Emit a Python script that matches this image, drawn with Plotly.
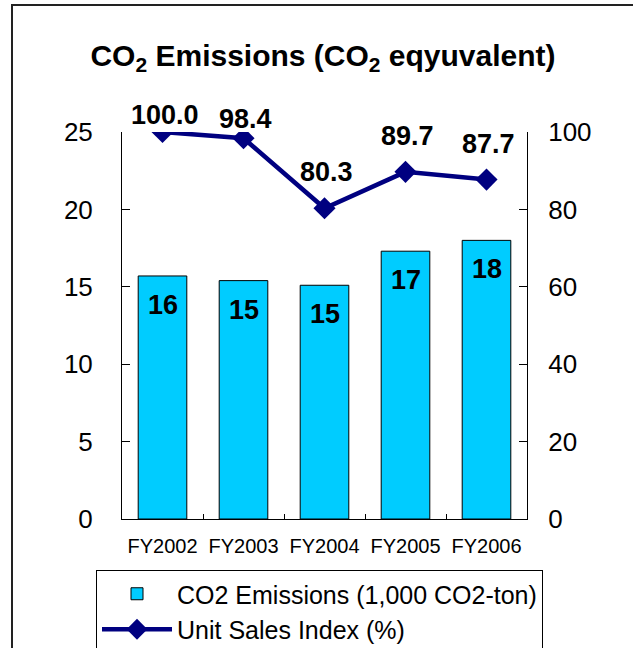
import plotly.graph_objects as go

categories = ["FY2002", "FY2003", "FY2004", "FY2005", "FY2006"]
co2_emissions = [15.7, 15.4, 15.1, 17.3, 18.0]
sales_index = [100.0, 98.4, 80.3, 89.7, 87.7]
line_label_shift = [17, 19, 36, 36, 36]

W, H = 633, 648
ML, MR, MT, MB = 122, 106, 132, 129
PW, PH = W - ML - MR, H - MT - MB
FONT = "Liberation Sans, Arial, sans-serif"

fig = go.Figure()
fig.add_trace(go.Bar(
    x=categories, y=co2_emissions, name="CO2 Emissions (1,000 CO2-ton)",
    marker=dict(color="#00CCFF", line=dict(color="#000000", width=1)),
    yaxis="y",
))
fig.add_trace(go.Scatter(
    x=categories, y=sales_index, name="Unit Sales Index (%)",
    mode="lines+markers",
    line=dict(color="#000080", width=4.5),
    marker=dict(symbol="diamond", size=17, color="#000080"),
    yaxis="y2",
))

annotations = []
for c, v in zip(categories, co2_emissions):
    annotations.append(dict(x=c, y=v, xref="x", yref="y", text=f"<b>{v:.0f}</b>",
                            showarrow=False, yshift=-29,
                            font=dict(family=FONT, size=27, color="#000000")))
for c, v, s in zip(categories, sales_index, line_label_shift):
    annotations.append(dict(x=c, y=v, xref="x", yref="y2", text=f"<b>{v:.1f}</b>",
                            showarrow=False, yshift=s, xshift=2,
                            font=dict(family=FONT, size=27, color="#000000")))

fig.update_layout(
    width=W, height=H,
    margin=dict(l=ML, r=MR, t=MT, b=MB, autoexpand=False),
    paper_bgcolor="#FFFFFF", plot_bgcolor="#FFFFFF",
    font=dict(family=FONT, color="#000000"),
    title=dict(text="<b>CO<sub>2</sub> Emissions (CO<sub>2</sub> eqyuvalent)</b>",
               x=323 / W, xanchor="center", xref="container",
               y=1 - 55 / H, yanchor="middle", yref="container",
               font=dict(family=FONT, size=30, color="#000000")),
    bargap=0.4,
    showlegend=True,
    legend=dict(x=(96 - ML) / PW, xanchor="left", y=-(570 - (MT + PH)) / PH,
                yanchor="top", bordercolor="#000000", borderwidth=1,
                font=dict(family=FONT, size=25, color="#000000"),
                itemwidth=70, tracegroupgap=0, bgcolor="#FFFFFF"),
    xaxis=dict(showline=True, linecolor="#000000", linewidth=1, mirror=False,
               ticks="inside", tickson="boundaries", ticklen=5, tickcolor="#000000",
               tickfont=dict(family=FONT, size=20, color="#000000"),
               ticklabelstandoff=9, showgrid=False, fixedrange=True),
    yaxis=dict(range=[0, 25], dtick=5, showline=True, linecolor="#000000", linewidth=1,
               ticks="inside", ticklen=8, tickcolor="#000000", showgrid=False, zeroline=False,
               tickfont=dict(family=FONT, size=26, color="#000000"), ticklabelstandoff=23),
    yaxis2=dict(range=[0, 100], dtick=20, overlaying="y", side="right", showline=True,
                linecolor="#000000", linewidth=1, ticks="inside", ticklen=8,
                tickcolor="#000000", showgrid=False, zeroline=False,
                tickfont=dict(family=FONT, size=26, color="#000000"), ticklabelstandoff=15),
    annotations=annotations,
    shapes=[dict(type="rect", xref="paper", yref="paper",
                 x0=(12 - ML) / PW, x1=1.6, y0=-0.6, y1=(MT + PH - 5) / PH,
                 line=dict(color="#222222", width=2), layer="below")],
)

fig.write_html("out.html", config={"displayModeBar": False},
               post_script="document.body.style.margin='0';document.body.style.overflow='hidden';")
